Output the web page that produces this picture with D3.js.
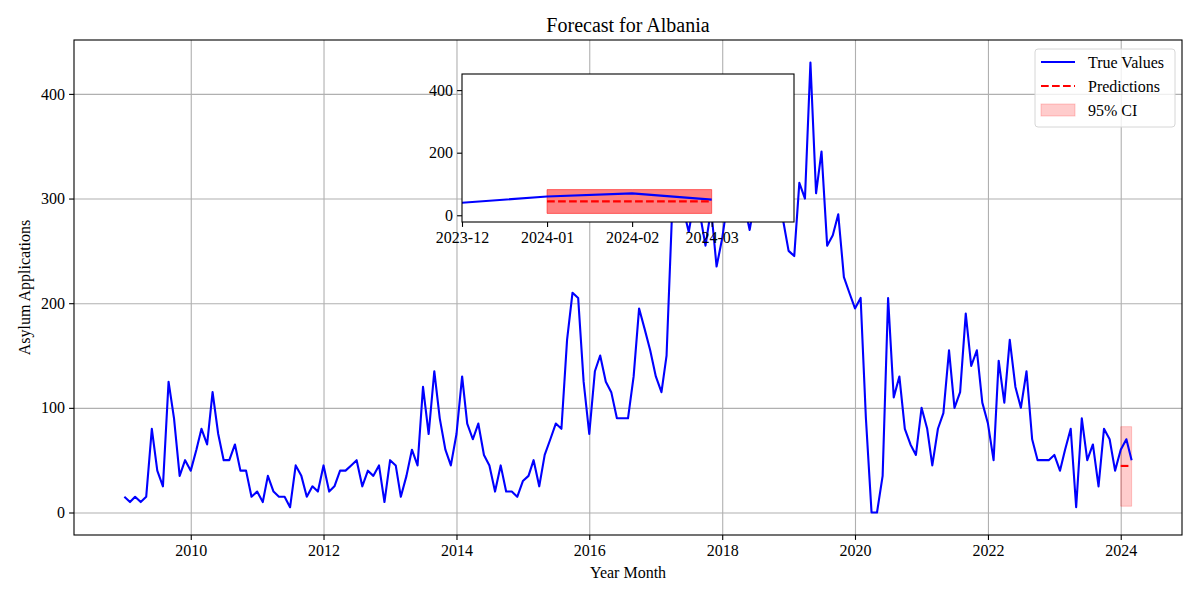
<!DOCTYPE html>
<html lang="en">
<head>
<meta charset="UTF-8">
<title>Forecast for Albania</title>
<script src="https://cdnjs.cloudflare.com/ajax/libs/d3/7.8.5/d3.min.js"></script>
<style>
  body { margin: 0; background: #fff; }
  svg, svg text { font-family: "Liberation Serif", "Times New Roman", serif; }
  .tick text { font-size: 16px; fill: #000; font-family: "Liberation Serif", "Times New Roman", serif; }
  .tick line { stroke: #000; stroke-width: 1.1; }
  .grid line { stroke: #b0b0b0; stroke-width: 1.1; }
  .grid .domain { display: none; }
  .legend text { font-size: 16px; }
</style>
</head>
<body>
<div id="chart"></div>
<script>
// monthly series, first value is 2009-01
const startMonth = "2009-01";
const trueValues = [
  15, 10, 15, 10, 15, 80, 40, 25, 125, 90, 35, 50,      // 2009
  40, 60, 80, 65, 115, 75, 50, 50, 65, 40, 40, 15,      // 2010
  20, 10, 35, 20, 15, 15, 5, 45, 35, 15, 25, 20,        // 2011
  45, 20, 25, 40, 40, 45, 50, 25, 40, 35, 45, 10,       // 2012
  50, 45, 15, 35, 60, 45, 120, 75, 135, 90, 60, 45,     // 2013
  75, 130, 85, 70, 85, 55, 45, 20, 45, 20, 20, 15,      // 2014
  30, 35, 50, 25, 55, 70, 85, 80, 165, 210, 205, 125,   // 2015
  75, 135, 150, 125, 115, 90, 90, 90, 130, 195, 175, 155, // 2016
  130, 115, 150, 290, 310, 290, 268, 300, 285, 255, 290, 235, // 2017
  262, 300, 320, 310, 295, 270, 300, 330, 310, 300, 290, 280, // 2018
  250, 245, 315, 300, 430, 305, 345, 255, 265, 285, 225, 210, // 2019
  195, 205, 90, 0, 0, 35, 205, 110, 130, 80, 65, 55,    // 2020
  100, 80, 45, 80, 95, 155, 100, 115, 190, 140, 155, 105, // 2021
  85, 50, 145, 105, 165, 120, 100, 135, 70, 50, 50, 50, // 2022
  55, 40, 60, 80, 5, 90, 50, 65, 25, 80, 70, 40,        // 2023
  60, 70, 50                                            // 2024
];
const predMonths = ["2024-01", "2024-02", "2024-03"];
const predValues = [44.5, 44.5, 44.5];
const ciLower = [6, 6, 6];
const ciUpper = [82, 82, 82];
const yTicks = [0, 100, 200, 300, 400];
const insetYTicks = [0, 200, 400];
const insetRange = ["2023-12-01", "2024-03-31"];

const W = 1200, H = 600;
const margin = {top: 40, right: 18, bottom: 65, left: 74};
const width = W - margin.left - margin.right;
const height = H - margin.top - margin.bottom;
const serif = "'Liberation Serif', 'Times New Roman', serif";

const parseMonth = d3.utcParse("%Y-%m");
const parseDay = d3.utcParse("%Y-%m-%d");
const start = parseMonth(startMonth);
const trueData = trueValues.map((v, i) => ({date: d3.utcMonth.offset(start, i), value: v}));
const predData = predMonths.map((m, i) => ({date: parseMonth(m), value: predValues[i], lo: ciLower[i], hi: ciUpper[i]}));

const svg = d3.select("#chart").append("svg")
  .attr("width", W).attr("height", H)
  .attr("font-family", serif);

// matplotlib style 5% margins
const xExt = d3.extent(trueData, d => d.date);
const xPad = (xExt[1] - xExt[0]) * 0.05;
const x = d3.scaleUtc()
  .domain([new Date(+xExt[0] - xPad), new Date(+xExt[1] + xPad)])
  .range([0, width]);
const yMax = d3.max(trueData, d => d.value), yMin = d3.min(trueData, d => d.value);
const yPad = (yMax - yMin) * 0.05;
const y = d3.scaleLinear().domain([yMin - yPad, yMax + yPad]).range([height, 0]);

const g = svg.append("g").attr("transform", `translate(${margin.left},${margin.top})`);

// grid
g.append("g").attr("class", "grid")
  .attr("transform", `translate(0,${height})`)
  .call(d3.axisBottom(x).ticks(d3.utcYear.every(2)).tickSize(-height).tickFormat(""));
g.append("g").attr("class", "grid")
  .call(d3.axisLeft(y).tickValues(yTicks).tickSize(-width).tickFormat(""));

// CI band
const band = d3.area()
  .x(d => x(d.date)).y0(d => y(d.lo)).y1(d => y(d.hi));
g.append("path").datum(predData)
  .attr("d", band)
  .attr("fill", "rgba(255,0,0,0.2)")
  .attr("stroke", "rgba(255,0,0,0.2)")
  .attr("stroke-width", 1);

const line = d3.line().x(d => x(d.date)).y(d => y(d.value));

g.append("path").datum(trueData)
  .attr("d", line)
  .attr("fill", "none")
  .attr("stroke", "blue")
  .attr("stroke-width", 2.1)
  .attr("stroke-linejoin", "round");

g.append("path").datum(predData)
  .attr("d", line)
  .attr("fill", "none")
  .attr("stroke", "red")
  .attr("stroke-width", 2.1)
  .attr("stroke-dasharray", "7.7,3.3");

// axes
function styleAxis(a) {
  a.attr("font-family", serif).attr("font-size", 16);
  a.select(".domain").remove();
}
const xAxis = g.append("g")
  .attr("transform", `translate(0,${height})`)
  .call(d3.axisBottom(x).ticks(d3.utcYear.every(2)).tickFormat(d3.utcFormat("%Y")).tickSize(4.9).tickPadding(5));
const yAxis = g.append("g")
  .call(d3.axisLeft(y).tickValues(yTicks).tickSize(4.9).tickPadding(4));
[xAxis, yAxis].forEach(styleAxis);

g.append("rect")
  .attr("width", width).attr("height", height)
  .attr("fill", "none").attr("stroke", "#000").attr("stroke-width", 1.1);

// labels
svg.append("text")
  .attr("x", margin.left + width / 2).attr("y", 32)
  .attr("text-anchor", "middle")
  .attr("font-size", 20)
  .text("Forecast for Albania");

svg.append("text")
  .attr("x", margin.left + width / 2).attr("y", 578)
  .attr("text-anchor", "middle")
  .attr("font-size", 16)
  .text("Year Month");

svg.append("text")
  .attr("transform", `translate(30,${margin.top + height / 2}) rotate(-90)`)
  .attr("text-anchor", "middle")
  .attr("font-size", 16)
  .text("Asylum Applications");

// legend
const lg = svg.append("g").attr("class", "legend")
  .attr("transform", "translate(1035,49)");
lg.append("rect")
  .attr("width", 140).attr("height", 78)
  .attr("rx", 3)
  .attr("fill", "rgba(255,255,255,0.8)")
  .attr("stroke", "#d6d6d6").attr("stroke-width", 1);
const items = [
  {label: "True Values", type: "line", color: "blue"},
  {label: "Predictions", type: "dash", color: "red"},
  {label: "95% CI", type: "patch"}
];
items.forEach((it, i) => {
  const cy = 13 + i * 24;
  if (it.type === "patch") {
    lg.append("rect")
      .attr("x", 6).attr("y", cy - 6).attr("width", 34).attr("height", 12)
      .attr("fill", "rgba(255,0,0,0.2)")
      .attr("stroke", "rgba(255,0,0,0.2)");
  } else {
    lg.append("line")
      .attr("x1", 6).attr("x2", 40).attr("y1", cy).attr("y2", cy)
      .attr("stroke", it.color).attr("stroke-width", 2.1)
      .attr("stroke-dasharray", it.type === "dash" ? "7.7,3.3" : null);
  }
  lg.append("text")
    .attr("x", 53).attr("y", cy + 5.5)
    .text(it.label);
});

// inset
const inset = {left: 462, top: 74, width: 332, height: 148};
const ig = svg.append("g").attr("transform", `translate(${inset.left},${inset.top})`);
const ix = d3.scaleUtc().domain(insetRange.map(parseDay)).range([0, inset.width]);
const iy = d3.scaleLinear().domain(y.domain()).range([inset.height, 0]);

ig.append("rect")
  .attr("width", inset.width).attr("height", inset.height)
  .attr("fill", "#fff");

svg.append("clipPath").attr("id", "inset-clip")
  .append("rect").attr("width", inset.width).attr("height", inset.height);
const ip = ig.append("g").attr("clip-path", "url(#inset-clip)");

ip.append("path").datum(predData)
  .attr("d", d3.area().x(d => ix(d.date)).y0(d => iy(d.lo)).y1(d => iy(d.hi)))
  .attr("fill", "rgba(255,0,0,0.5)")
  .attr("stroke", "rgba(255,0,0,0.5)")
  .attr("stroke-width", 1);

const iline = d3.line().x(d => ix(d.date)).y(d => iy(d.value));
ip.append("path").datum(trueData)
  .attr("d", iline)
  .attr("fill", "none")
  .attr("stroke", "blue")
  .attr("stroke-width", 2.1);
ip.append("path").datum(predData)
  .attr("d", iline)
  .attr("fill", "none")
  .attr("stroke", "red")
  .attr("stroke-width", 2.1)
  .attr("stroke-dasharray", "7.7,3.3");

const ixAxis = ig.append("g")
  .attr("transform", `translate(0,${inset.height})`)
  .call(d3.axisBottom(ix).ticks(d3.utcMonth.every(1)).tickFormat(d3.utcFormat("%Y-%m")).tickSize(4.9).tickPadding(5));
const iyAxis = ig.append("g")
  .call(d3.axisLeft(iy).tickValues(insetYTicks).tickSize(4.9).tickPadding(4));
[ixAxis, iyAxis].forEach(styleAxis);

ig.append("rect")
  .attr("width", inset.width).attr("height", inset.height)
  .attr("fill", "none").attr("stroke", "#000").attr("stroke-width", 1.1);
</script>
</body>
</html>
